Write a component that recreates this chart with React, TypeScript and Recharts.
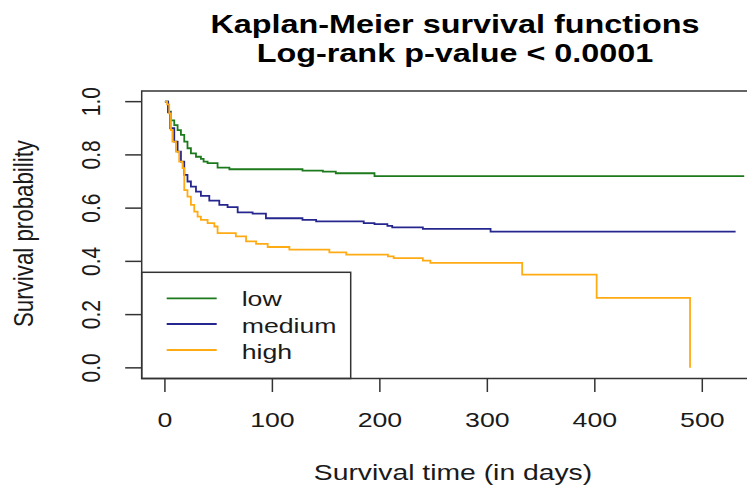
import React from 'react';
import { LineChart, Line, XAxis, YAxis, ReferenceArea, Customized } from 'recharts';

const FONT = '"Liberation Sans", Arial, Helvetica, sans-serif';
const SX = 1.27;
const INK = '#1a1a1a';
const FRAME = '#333333';

// Kaplan-Meier step points (time in days, survival probability)
const lowTime = [0, 3, 5.6, 8.7, 11.8, 14.9, 18, 21, 24.2, 28.9, 33.5, 36, 39.7, 49, 60, 128, 147, 159, 195, 539];
const lowSurv = [1.0, 0.962, 0.93, 0.912, 0.893, 0.875, 0.85, 0.825, 0.806, 0.793, 0.785, 0.775, 0.769, 0.752, 0.746, 0.741, 0.737, 0.731, 0.72, 0.72];

const mediumTime = [0, 3, 5, 8.7, 11.8, 14.9, 18, 21, 24.2, 28.9, 33.5, 41.3, 50.6, 58.3, 67.7, 81.6, 94, 128, 140.7, 185, 195, 207, 211.5, 240, 303, 531];
const mediumSurv = [1.0, 0.96, 0.9, 0.85, 0.812, 0.775, 0.725, 0.7, 0.681, 0.662, 0.646, 0.628, 0.612, 0.604, 0.584, 0.579, 0.562, 0.556, 0.55, 0.544, 0.54, 0.533, 0.528, 0.522, 0.512, 0.512];

const highTime = [0, 2, 4, 5.6, 7, 10.2, 13.3, 16.4, 18, 21, 24.2, 27.3, 30.4, 33.5, 39.7, 46, 49, 66, 75.5, 84.8, 95.6, 115.8, 153, 168.7, 207.5, 212.8, 240, 247, 332.4, 401.7, 488.6];
const highSurv = [1.0, 0.99, 0.956, 0.893, 0.85, 0.812, 0.775, 0.75, 0.668, 0.643, 0.612, 0.587, 0.568, 0.556, 0.544, 0.531, 0.506, 0.494, 0.475, 0.466, 0.454, 0.444, 0.434, 0.425, 0.419, 0.412, 0.403, 0.394, 0.35, 0.2625, 0];

const groupNames = ['low', 'medium', 'high'];
const groupColors = ['#1c7a1c', '#26268f', '#ffab14'];

const xTicks = [0, 100, 200, 300, 400, 500];
const yTicks = [0, 0.2, 0.4, 0.6, 0.8, 1.0];
const xDomain: [number, number] = [-21.6, 561.6];
const yDomain: [number, number] = [-0.04, 1.04];

const titleLines = ['Kaplan-Meier survival functions', 'Log-rank p-value < 0.0001'];
const xLabel = 'Survival time (in days)';
const yLabel = 'Survival probability';

const zip = (t: number[], s: number[]) => t.map((x, i) => ({ t: x, s: s[i] }));
const seriesData = [zip(lowTime, lowSurv), zip(mediumTime, mediumSurv), zip(highTime, highSurv)];

const W = 800;
const H = 477;
const LEFT = 133.7;
const BOTTOM = 106.5;
const M = { top: 83, right: 39.5, bottom: 0, left: 0 };
const PLOT_BOTTOM = H - BOTTOM;

function XTick(props: any) {
  const { x, y, payload } = props;
  return (
    <g>
      <line x1={x} x2={x} y1={y} y2={y + 13.5} stroke={FRAME} strokeWidth={1.5} />
      <text
        transform={`translate(${x},${y + 48.5}) scale(${SX},1)`}
        textAnchor="middle"
        fontSize={21}
        fontFamily={FONT}
        fill={INK}
      >
        {payload.value}
      </text>
    </g>
  );
}

function YTick(props: any) {
  const { x, y, payload } = props;
  return (
    <g>
      <line x1={x - 16.5} x2={x} y1={y} y2={y} stroke={FRAME} strokeWidth={1.5} />
      <text
        transform={`translate(${x - 41.7},${y}) scale(${SX},1) rotate(-90)`}
        textAnchor="middle"
        fontSize={21}
        fontFamily={FONT}
        fill={INK}
      >
        {Number(payload.value).toFixed(1)}
      </text>
    </g>
  );
}

function Overlay() {
  const legTop = 264.3;
  const legLeft = LEFT;
  const rowY = [290.3, 316, 342];
  const textY = [298, 324.5, 350.5];
  return (
    <g>
      {titleLines.map((line, i) => (
        <text
          key={line}
          transform={`translate(447,${25 + i * 29}) scale(${SX},1)`}
          textAnchor="middle"
          fontSize={25.5}
          fontWeight="bold"
          fontFamily={FONT}
          fill="#000"
        >
          {line}
        </text>
      ))}
      <text
        transform={`translate(445,472) scale(${SX},1)`}
        textAnchor="middle"
        fontSize={22.3}
        fontFamily={FONT}
        fill={INK}
      >
        {xLabel}
      </text>
      <text
        transform={`translate(25,225.5) scale(${SX},1) rotate(-90)`}
        textAnchor="middle"
        fontSize={22.3}
        fontFamily={FONT}
        fill={INK}
      >
        {yLabel}
      </text>
      <rect
        x={legLeft}
        y={legTop}
        width={209}
        height={PLOT_BOTTOM - legTop}
        fill="#fff"
        stroke={FRAME}
        strokeWidth={1.5}
      />
      {groupNames.map((g, i) => (
        <g key={g}>
          <line x1={legLeft + 25} x2={legLeft + 75} y1={rowY[i]} y2={rowY[i]} stroke={groupColors[i]} strokeWidth={1.8} />
          <text
            transform={`translate(${legLeft + 100},${textY[i]}) scale(${SX},1)`}
            fontSize={21}
            fontFamily={FONT}
            fill={INK}
          >
            {g}
          </text>
        </g>
      ))}
    </g>
  );
}

export default function App() {
  return (
    <div style={{ width: 747, height: 477, overflow: 'hidden', background: '#fff' }}>
      <LineChart width={W} height={H} margin={M}>
        <XAxis
          dataKey="t"
          type="number"
          domain={xDomain}
          allowDataOverflow
          ticks={xTicks}
          interval={0}
          height={BOTTOM}
          axisLine={false}
          tickLine={false}
          tickSize={0}
          tickMargin={0}
          tick={(p: any) => <XTick {...p} />}
        />
        <YAxis
          type="number"
          domain={yDomain}
          allowDataOverflow
          ticks={yTicks}
          interval={0}
          width={LEFT}
          axisLine={false}
          tickLine={false}
          tickSize={0}
          tickMargin={0}
          tick={(p: any) => <YTick {...p} />}
        />
        <ReferenceArea
          x1={xDomain[0]}
          x2={xDomain[1]}
          y1={yDomain[0]}
          y2={yDomain[1]}
          ifOverflow="visible"
          fill="none"
          fillOpacity={0}
          stroke={FRAME}
          strokeWidth={1.5}
        />
        {seriesData.map((d, i) => (
          <Line
            key={groupNames[i]}
            data={d}
            dataKey="s"
            type="stepAfter"
            dot={false}
            activeDot={false}
            stroke={groupColors[i]}
            strokeWidth={1.8}
            isAnimationActive={false}
          />
        ))}
        <Customized component={Overlay} />
      </LineChart>
    </div>
  );
}
